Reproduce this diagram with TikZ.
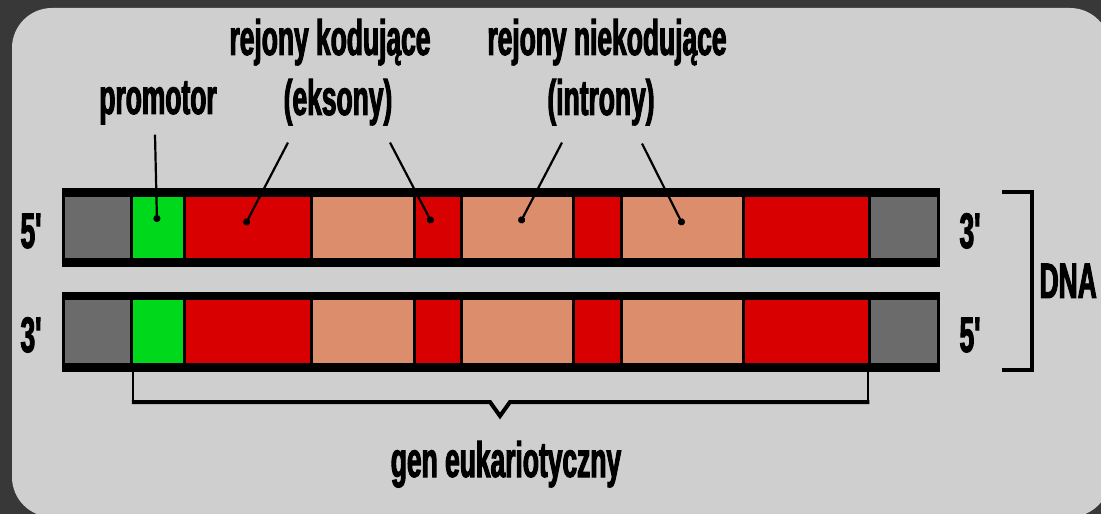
\documentclass[tikz,border=0pt]{standalone}
\usepackage{fontspec}
\newfontfamily\labfont[FakeStretch=0.53,FakeBold=2]{Liberation Sans}
\usetikzlibrary{calc,arrows.meta}
\definecolor{bgc}{HTML}{383838}
\definecolor{panelc}{HTML}{CFCFCF}
\definecolor{cgray}{HTML}{6B6B6B}
\definecolor{cgreen}{HTML}{00D81C}
\definecolor{cred}{HTML}{D80000}
\definecolor{ctan}{HTML}{DC8D6B}
\tikzset{
  lab/.style={font=\labfont\bfseries\fontsize{50}{60}\selectfont, inner sep=2bp, anchor=base, text=black},
  pointer/.style={draw=black, line width=2.2bp, -{Circle[length=7bp]}},
  bracketline/.style={draw=black, line width=3.5bp},
}
\begin{document}
\begin{tikzpicture}[x=1bp,y=-1bp]
\useasboundingbox (0,0) rectangle (1101,514);
\fill[bgc] (0,0) rectangle (1101,514);
\fill[panelc, rounded corners=40bp] (12,8) rectangle (1110,517);

% strands
\fill[black] (62,188) rectangle (940,267);
\fill[black] (62,292) rectangle (940,372);
\foreach \a/\b/\c in {65/130/cgray, 133/183/cgreen, 186/310/cred, 313/413/ctan, 416/460/cred, 463/572/ctan, 575/620/cred, 623/742/ctan, 745/868/cred, 871/937/cgray}{
  \fill[\c] (\a,197) rectangle (\b,258);
  \fill[\c] (\a,300) rectangle (\b,363);
}

% end labels
\node[lab] (l5a) at (31,248) {5'};
\node[lab] (l3a) at (31,352) {3'};
\node[lab] (r3a) at (970,248) {3'};
\node[lab] (r5a) at (970,352) {5'};
\node[lab, anchor=base east] (dna) at (1099,298) {DNA};

% top labels
\node[lab] (prom) at (158,114) {promotor};
\node[lab] (kod1) at (330,55) {rejony kodujące};
\node[lab] (eks) at (338,115) {(eksony)};
\node[lab] (nkod1) at (607,55) {rejony niekodujące};
\node[lab] (intr) at (601,115) {(introny)};
\node[lab] (gen) at (506,477) {gen eukariotyczny};

% pointer targets
\coordinate (tProm) at (157,222);
\coordinate (tEx1) at (245,225);
\coordinate (tEx2) at (432,223);
\coordinate (tIn1) at (520,223);
\coordinate (tIn2) at (683,225);

\draw[pointer] ($(prom.south)+(-3,8)$) -- (tProm);
\draw[pointer] ($(eks.south)+(-50,15)$) -- (tEx1);
\draw[pointer] ($(eks.south)+(52,15)$) -- (tEx2);
\draw[pointer] ($(intr.south)+(-39,15)$) -- (tIn1);
\draw[pointer] ($(intr.south)+(41,16)$) -- (tIn2);

% DNA bracket
\coordinate (bT) at (1002,192);
\coordinate (bB) at (1002,370);
\draw[bracketline] (bT) -- (1032,192) -- (1032,370) -- (bB);

% gene brace
\coordinate (gL) at (133,372);
\coordinate (gR) at (868,372);
\draw[black, line width=2.5bp] (gL) -- (133,402);
\draw[black, line width=2.5bp] (gR) -- (868,402);
\draw[black, line width=4bp, line join=miter] (131.75,402) -- (490,402) -- (500,416) -- (510,402) -- (869.25,402);
\end{tikzpicture}
\end{document}
